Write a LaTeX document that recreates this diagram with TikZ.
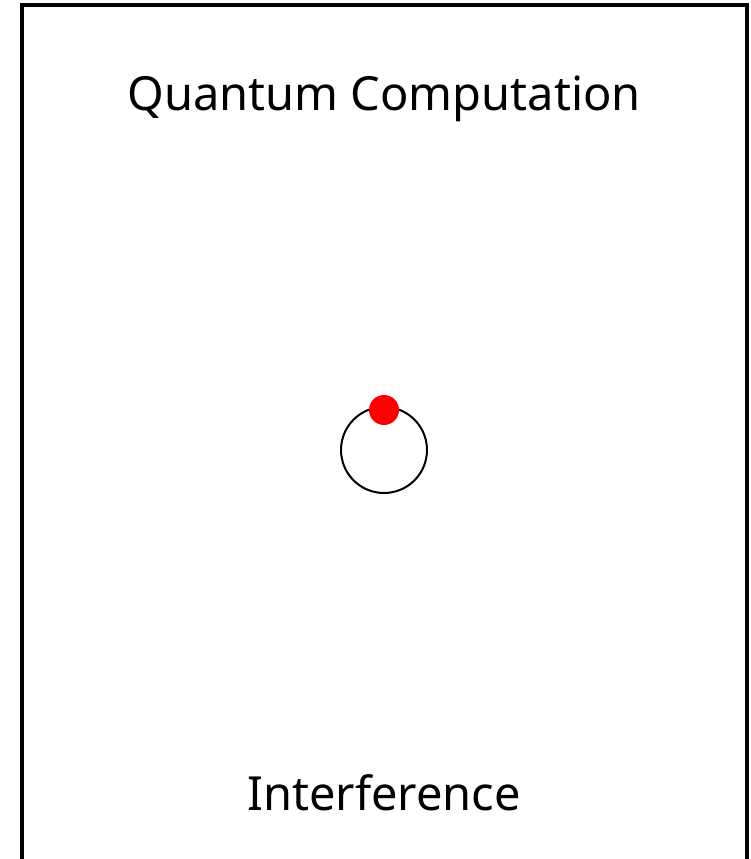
\documentclass[tikz,border=0pt]{standalone}
\usepackage{fontspec}
\setmainfont{Noto Sans}
\usetikzlibrary{positioning}

\begin{document}
\begin{tikzpicture}[x=1pt, y=1pt, every node/.style={font=\fontsize{47}{54}\selectfont}]
    \useasboundingbox (0,0) rectangle (751,859);
    \draw[line width=4pt] (21.5,-20) -- (21.5,854) -- (746.5,854) -- (746.5,-20);
    \node (title) at (384,760) {Quantum Computation};
    \node[draw, circle, line width=2pt, minimum size=86pt, inner sep=0pt] (ring) at (384,409) {};
    \node[circle, fill=red, minimum size=30pt, inner sep=0pt] (dot) at ([yshift=-4pt]ring.north) {};
    \node (label) at (384,66) {Interference};
\end{tikzpicture}
\end{document}
